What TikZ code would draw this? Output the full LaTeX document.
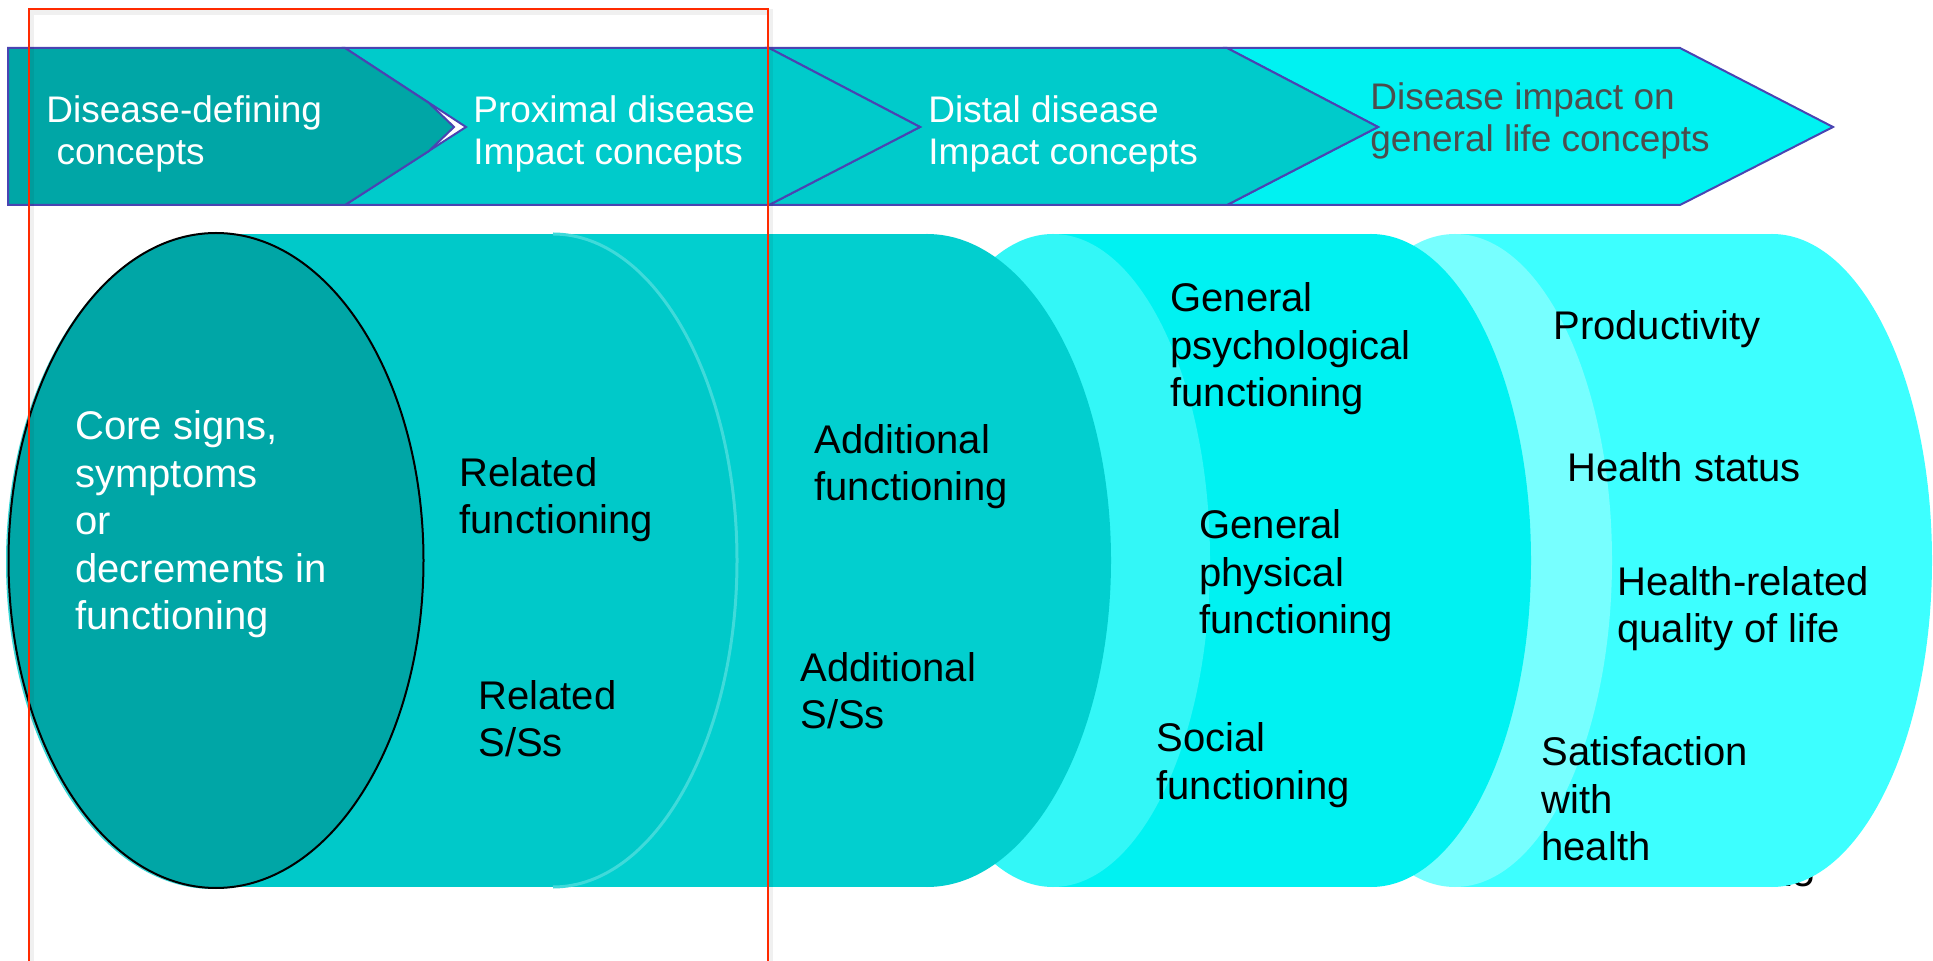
\documentclass[tikz,border=0pt]{standalone}
\usepackage{fontspec}
\setmainfont{Liberation Sans}
\definecolor{bandA}{HTML}{00A6A6}
\definecolor{bandB}{HTML}{00CBCB}
\definecolor{bandC}{HTML}{00F2F2}
\definecolor{bandLine}{HTML}{4A44B2}
\definecolor{coreFill}{HTML}{00A6A6}
\definecolor{capA}{HTML}{38D6D6}
\definecolor{cylA}{HTML}{00C9C9}
\definecolor{cylB}{HTML}{02CFCF}
\definecolor{rimA}{HTML}{3FDADA}
\definecolor{cylC}{HTML}{00F2F2}
\definecolor{capC}{HTML}{33F7F7}
\definecolor{cylD}{HTML}{3DFFFF}
\definecolor{capD}{HTML}{77FFFF}
\definecolor{frameRed}{HTML}{FF2A00}
\definecolor{darkText}{HTML}{4D4D4D}
\begin{document}
\begin{tikzpicture}[x=0.5pt,y=-0.5pt,
  bandshape/.style={draw=bandLine, line width=1pt, line join=miter},
  % multi-line labels are placed by the baseline of their last line
  bandtext/.style={font=\fontsize{18.5pt}{21pt}\selectfont, text=white,
    align=left, inner sep=0pt, anchor=base west},
  cyltext/.style={font=\fontsize{20pt}{23.75pt}\selectfont, text=black,
    align=left, inner sep=0pt, anchor=base west},
  corelabel/.style={cyltext, text=white},
]
\useasboundingbox (0,0) rectangle (1933,961);
\fill[white] (0,0) rectangle (1933,961);

% ---- concept band (chevrons, back to front) ----
\fill[bandC, bandshape] (1227,48) -- (1680,48) -- (1833,127) -- (1680,205)
  -- (1227,205) -- (1378,127) -- cycle;
\fill[bandB, bandshape] (769,48) -- (1227,48) -- (1378,127) -- (1227,205)
  -- (769,205) -- (920,127) -- cycle;
\fill[bandB, bandshape] (345,48) -- (769,48) -- (920,127) -- (769,205)
  -- (345,205) -- (466,127) -- cycle;
\fill[bandA, bandshape] (8,48) -- (345,48) -- (429,103) -- (454,127)
  -- (429,151) -- (345,205) -- (8,205) -- cycle;

\node[bandtext] (tDef) at (46,165) {Disease-defining\\\hspace*{5.1pt}concepts};
\node[bandtext] (tProx) at (473,165) {Proximal disease\\Impact concepts};
\node[bandtext] (tDist) at (928,165) {Distal disease\\Impact concepts};
\node[bandtext, text=darkText] (tLife) at (1370,152) {Disease impact on\\general life concepts};

% ---- slide number, mostly hidden behind the last cylinder ----
\node[cyltext] (pageNo) at (1770,886) {15};

% ---- general life cylinder ----
\fill[cylD] (1455,234) rectangle (1772,887);
\fill[cylD] (1772,560.5) ellipse[x radius=160, y radius=326.5];
\fill[capD] (1455,560.5) ellipse[x radius=157, y radius=326.5];

% ---- general functioning cylinder ----
\fill[cylC] (1053,234) rectangle (1371,887);
\fill[cylC] (1371,560.5) ellipse[x radius=160, y radius=326.5];
\fill[capC] (1053,560.5) ellipse[x radius=157, y radius=326.5];

% ---- distal cylinder ----
\fill[cylB] (553,234) rectangle (927,887);
\fill[cylB] (927,560.5) ellipse[x radius=184, y radius=326.5];

% ---- proximal cylinder ----
\fill[cylA] (213,234) rectangle (553,887);
\fill[cylA] (553,560.5) ellipse[x radius=184, y radius=326.5];
\draw[rimA, line width=1.5pt] (553,234) arc[start angle=-90, end angle=90,
  x radius=184, y radius=326.5];
\fill[capA] (213,562) ellipse[x radius=207, y radius=327];

% ---- disease-defining core ----
\draw[black, fill=coreFill, line width=1pt] (216,560.5)
  ellipse[x radius=207.5, y radius=327.5];

% ---- labels on the cylinders ----
\node[corelabel] (tCore) at (75,630) {Core signs,\\symptoms\\or\\decrements in\\functioning};
\node[cyltext] (tRelF) at (459,534) {Related\\functioning};
\node[cyltext] (tRelS) at (478,757) {Related\\S/Ss};
\node[cyltext] (tAddF) at (814,501) {Additional\\functioning};
\node[cyltext] (tAddS) at (800,729) {Additional\\S/Ss};
\node[cyltext] (tPsy) at (1170,407) {General\\psychological\\functioning};
\node[cyltext] (tPhy) at (1199,634) {General\\physical\\functioning};
\node[cyltext] (tSoc) at (1156,799) {Social\\functioning};
\node[cyltext] (tProd) at (1553,340) {Productivity};
\node[cyltext] (tHs) at (1567,482) {Health status};
\node[cyltext] (tHrq) at (1617,643) {Health-related\\quality of life};
\node[cyltext] (tSat) at (1541,861) {Satisfaction\\with\\health};

% ---- red frame with its soft shadow ----
\draw[black, opacity=0.06, line width=3pt] (31,970) -- (31,12) -- (770,12) -- (770,970);
\draw[frameRed, line width=1.2pt] (29,970) -- (29,9) -- (768,9) -- (768,970);
\end{tikzpicture}
\end{document}
